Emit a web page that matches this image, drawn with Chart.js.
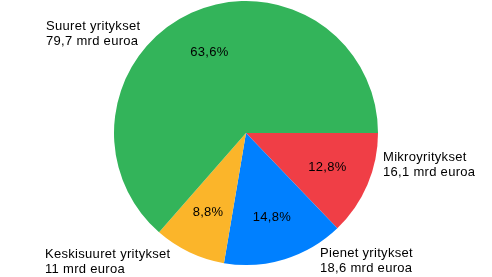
<!DOCTYPE html>
<html>
<head>
<meta charset="utf-8">
<script src="https://cdn.jsdelivr.net/npm/chart.js@4/dist/chart.umd.min.js"></script>
<style>
  html, body { margin: 0; padding: 0; background: #fff; }
  #wrap { width: 492px; height: 277px; }
</style>
</head>
<body>
<div id="wrap"><canvas id="pieChart" width="492" height="277"></canvas></div>
<script>
// --- data ---
var categories = ['Mikroyritykset', 'Pienet yritykset', 'Keskisuuret yritykset', 'Suuret yritykset'];
var amounts = [16.1, 18.6, 11, 79.7];          // mrd euroa
var colors = ['rgb(240,62,70)', 'rgb(0,128,255)', 'rgb(251,181,42)', 'rgb(51,180,90)'];

// where the outside labels sit (left x, first line middle y)
var outsideLabelPos = [[383, 157], [320, 253], [45, 254], [46, 26]];

function fiNum(v, d) {
    return v.toFixed(d).replace('.', ',');
}

var total = amounts.reduce(function (a, b) { return a + b; }, 0);

// draws the % inside each slice and the name + amount outside
var labelPlugin = {
    id: 'sliceLabels',
    afterDatasetsDraw: function (chart) {
        var ctx = chart.ctx;
        var meta = chart.getDatasetMeta(0);
        ctx.save();
        ctx.font = '13px "Liberation Sans", Arial, sans-serif';
        ctx.letterSpacing = '0.3px';
        ctx.fillStyle = '#000';
        meta.data.forEach(function (arc, i) {
            var p = arc.getProps(['x', 'y', 'startAngle', 'endAngle', 'outerRadius'], true);
            var mid = (p.startAngle + p.endAngle) / 2;
            var r = p.outerRadius * 0.67;
            ctx.textAlign = 'center';
            ctx.textBaseline = 'middle';
            ctx.fillText(fiNum(amounts[i] / total * 100, 1) + '%', p.x + Math.cos(mid) * r, p.y + Math.sin(mid) * r);

            var lp = outsideLabelPos[i];
            ctx.textAlign = 'left';
            ctx.fillText(categories[i], lp[0], lp[1]);
            var amt = amounts[i] % 1 === 0 ? String(amounts[i]) : fiNum(amounts[i], 1);
            ctx.fillText(amt + ' mrd euroa', lp[0], lp[1] + 15);
        });
        ctx.restore();
    }
};

var pieChart = new Chart(document.getElementById('pieChart'), {
    type: 'pie',
    data: {
        labels: categories,
        datasets: [{
            data: amounts,
            backgroundColor: colors,
            borderWidth: 0
        }]
    },
    options: {
        responsive: false,
        animation: false,
        rotation: 90,
        layout: { padding: { top: 1, bottom: 12, left: 0, right: 0 } },
        plugins: {
            legend: { display: false },
            tooltip: { enabled: false }
        }
    },
    plugins: [labelPlugin]
});
</script>
</body>
</html>
